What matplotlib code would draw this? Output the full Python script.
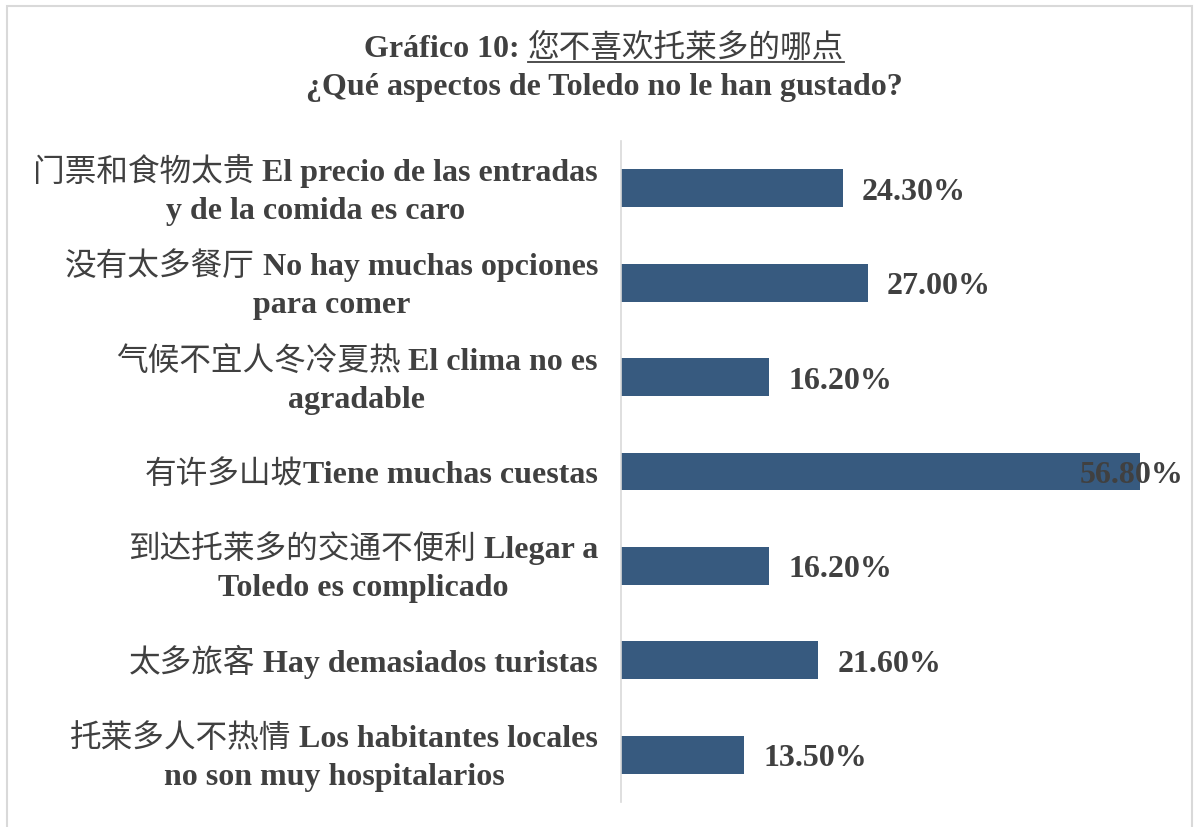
import matplotlib
matplotlib.use("Agg")
import matplotlib.pyplot as plt
from matplotlib.patches import Rectangle
from matplotlib.lines import Line2D

# Chart data
labels_zh = ["门票和食物太贵", "没有太多餐厅", "气候不宜人冬冷夏热", "有许多山坡",
             "到达托莱多的交通不便利", "太多旅客", "托莱多人不热情"]
labels_es_1 = [" El precio de las entradas", " No hay muchas opciones", " El clima no es",
               "Tiene muchas cuestas", " Llegar a", " Hay demasiados turistas",
               " Los habitantes locales"]
labels_es_2 = ["y de la comida es caro", "para comer", "agradable", "",
               "Toledo es complicado", "", "no son muy hospitalarios"]
values = [24.3, 27.0, 16.2, 56.8, 16.2, 21.6, 13.5]

title_es = "Gráfico 10: "
title_zh = "您不喜欢托莱多的哪点"
subtitle = "¿Qué aspectos de Toledo no le han gustado?"

W, H = 1194, 828
TXT = "#404040"
BAR = "#375A7F"
LAT = dict(family="Liberation Serif", weight="bold", size=23, color=TXT)
CJK = dict(family="Noto Sans CJK SC", weight="normal", size=22.8, color=TXT)
EM = 23 * 100 / 72  # latin em size in pixels

fig = plt.figure(figsize=(W / 100, H / 100), dpi=100)
renderer = fig.canvas.get_renderer()


def text_width(s, props):
    t = fig.text(0, 0, s, **props)
    w = t.get_window_extent(renderer).width
    t.remove()
    return w


ax = fig.add_axes([621 / W, 25 / H, 548.4 / W, 661 / H])
ypos = list(range(len(values)))
ax.barh(ypos, values, height=0.4, color=BAR)
ax.set_xlim(0, 60)
ax.set_ylim(6.5, -0.5)
ax.set_xticks([])
ax.set_yticks([])
for side in ["top", "right", "bottom"]:
    ax.spines[side].set_visible(False)
ax.spines["left"].set_color("#D9D9D9")
ax.spines["left"].set_linewidth(1.2)

base = -0.33 * EM  # baseline offset from line center
gap = 23

# category labels: chinese part regular, spanish part bold
for i in ypos:
    two = labels_es_2[i] != ""
    dy1 = 19 if two else 0
    w_lat = text_width(labels_es_1[i], LAT)
    w_cjk = text_width(labels_zh[i], CJK)
    ax.annotate(labels_es_1[i], xy=(0, i), xycoords=("axes fraction", "data"),
                xytext=(-gap, dy1 + base), textcoords="offset pixels",
                ha="right", va="baseline", **LAT)
    ax.annotate(labels_zh[i], xy=(0, i), xycoords=("axes fraction", "data"),
                xytext=(-gap - w_lat, dy1 + base), textcoords="offset pixels",
                ha="right", va="baseline", **CJK)
    if two:
        ax.annotate(labels_es_2[i], xy=(0, i), xycoords=("axes fraction", "data"),
                    xytext=(-gap - (w_lat + w_cjk) / 2, -19 + base),
                    textcoords="offset pixels", ha="center", va="baseline", **LAT)

# value labels
vmax = max(values)
for i, v in zip(ypos, values):
    s = f"{v:.2f}%"
    if v == vmax:
        ax.annotate(s, xy=(1184, i), xycoords=("figure pixels", "data"),
                    xytext=(0, base), textcoords="offset pixels",
                    ha="right", va="baseline", **LAT)
    else:
        ax.annotate(s, xy=(v, i), xytext=(19, base), textcoords="offset pixels",
                    ha="left", va="baseline", **LAT)

# title
cx = 604
w_t1 = text_width(title_es, LAT)
w_t2 = text_width(title_zh, CJK)
x0 = cx - (w_t1 + w_t2) / 2
y1 = H - 57
fig.text(x0 / W, y1 / H, title_es, ha="left", va="baseline", **LAT)
fig.text((x0 + w_t1) / W, y1 / H, title_zh, ha="left", va="baseline", **CJK)
fig.add_artist(Line2D([(x0 + w_t1) / W, (x0 + w_t1 + w_t2) / W],
                      [(y1 - 6) / H, (y1 - 6) / H], color=TXT, lw=1.3))
fig.text(cx / W, (H - 95) / H, subtitle, ha="center", va="baseline", **LAT)

# chart frame
fig.add_artist(Rectangle((7 / W, -10 / H), 1185 / W, (H - 6.5 + 10) / H,
                         fill=False, edgecolor="#D9D9D9", lw=1.5,
                         transform=fig.transFigure))

fig.savefig("out.png", dpi=100)
